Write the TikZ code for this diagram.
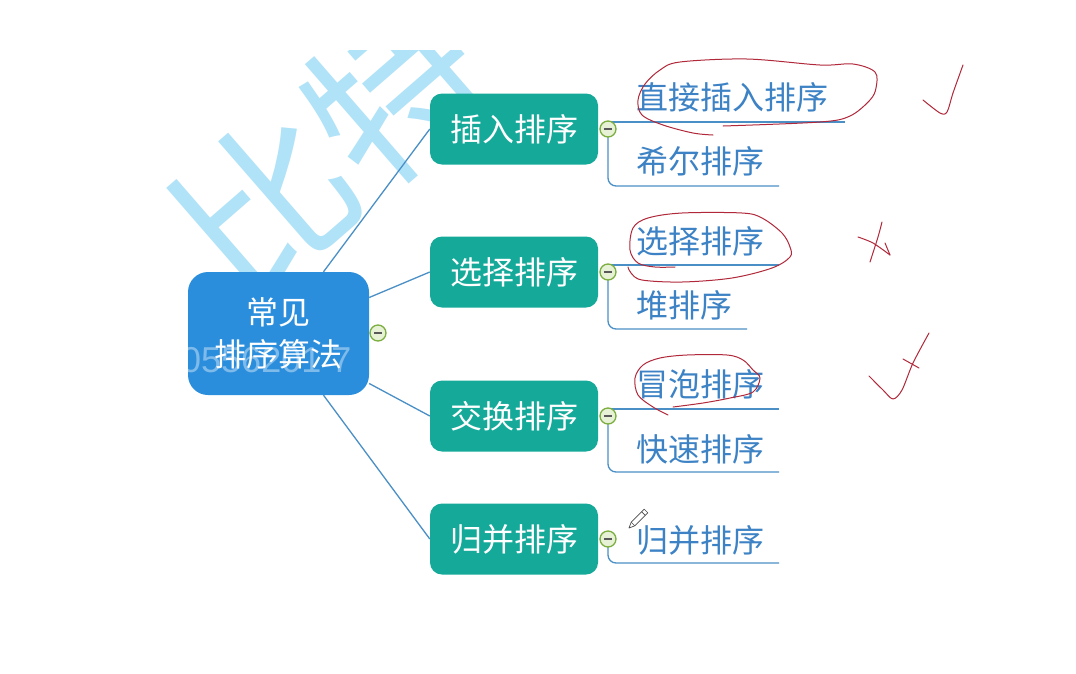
\documentclass[tikz,border=0pt]{standalone}
\usepackage{fontspec}
\newfontfamily\cjk{Noto Sans CJK SC}
\newfontfamily\numfont{Liberation Sans}
\usetikzlibrary{calc}
\definecolor{cblue}{HTML}{2B8EDC}
\definecolor{tealbox}{HTML}{15A99A}
\definecolor{leaftxt}{HTML}{3C82C4}
\definecolor{linkcol}{HTML}{4A8FC6}
\definecolor{wmark}{HTML}{B0E2F8}
\definecolor{penred}{HTML}{B0283A}
\definecolor{mgreen}{HTML}{7BAE3E}
\definecolor{mfill}{HTML}{E6F1D6}
\pgfdeclarelayer{bottom}
\pgfdeclarelayer{links}
\pgfsetlayers{bottom,links,main}
\begin{document}
\begin{tikzpicture}[x=1pt,y=-1pt,
 central/.style={fill=cblue, rounded corners=20pt, minimum width=181pt, minimum height=123pt, text=white, align=center, inner sep=0pt, font=\cjk\fontsize{32}{42}\selectfont},
 branch/.style={fill=tealbox, rounded corners=12pt, minimum width=168pt, minimum height=71pt, text=white, inner sep=0pt, font=\cjk\fontsize{32}{36}\selectfont},
 leaf/.style={text=leaftxt, anchor=west, inner sep=0pt, font=\cjk\fontsize{32}{36}\selectfont},
 link/.style={draw=linkcol, line width=1.3pt},
 fold/.style={circle, draw=mgreen, fill=mfill, line width=1.3pt, minimum size=16pt, inner sep=0pt},
 minus/.style={draw=black!65, line width=1.6pt},
 ink/.style={draw=penred, line width=1pt, line join=round, line cap=round}
]
\begin{pgfonlayer}{bottom}
\useasboundingbox (0,0) rectangle (1076,673);
\fill[white] (0,0) rectangle (1076,673);
% watermark
\begin{scope}
\clip (0,50) rectangle (1076,673);
\node[rotate=41, text=wmark, inner sep=0pt, font=\cjk\fontsize{172}{172}\selectfont] (wm) at (330,148) {比特};
\end{scope}
\end{pgfonlayer}

% boxes
\node[central] (c) at (278.5,333.5) {常见\\排序算法};
\node[branch] (b1) at (514,129) {插入排序};
\node[branch] (b2) at (514,272) {选择排序};
\node[branch] (b3) at (514,416) {交换排序};
\node[branch] (b4) at (514,539) {归并排序};

% connectors centre -> branches
\begin{pgfonlayer}{links}
\draw[link] ([xshift=45pt]c.north) -- (b1.west);
\draw[link] ([yshift=36pt]c.east) -- (b2.west);
\draw[link] ([yshift=-50pt]c.east) -- (b3.west);
\draw[link] ([xshift=45pt]c.south) -- (b4.west);
\end{pgfonlayer}

% numeric watermark
\node[text=white, opacity=0.4, anchor=west, inner sep=0pt, font=\numfont\fontsize{36}{36}\selectfont] (num) at (181,360) {0556201 7};

% fold markers
\coordinate (p0) at (378,333);
\coordinate (p1) at (608,129);
\coordinate (p2) at (608,272);
\coordinate (p3) at (608,416);
\coordinate (p4) at (608,539);

% underline end points
\coordinate (u11) at (845,122);
\coordinate (u12) at (779,186);
\coordinate (u21) at (779,265);
\coordinate (u22) at (747,329);
\coordinate (u31) at (779,409);
\coordinate (u32) at (779,472);
\coordinate (u41) at (779,563);

\draw[link] (p1 |- u11) -- (u11);
\draw[link, rounded corners=8pt] (p1) |- (u12);
\draw[link] (p2 |- u21) -- (u21);
\draw[link, rounded corners=8pt] (p2) |- (u22);
\draw[link] (p3 |- u31) -- (u31);
\draw[link, rounded corners=8pt] (p3) |- (u32);
\draw[link, rounded corners=8pt] (p4) |- (u41);

\foreach \p/\n in {p0/m0,p1/m1,p2/m2,p3/m3,p4/m4}{
  \node[fold] (\n) at (\p) {};
  \draw[minus] ([xshift=-4.2pt]\n.center) -- ([xshift=4.2pt]\n.center);
}

% leaves
\node[leaf] (l11) at (636,97.5) {直接插入排序};
\node[leaf] (l12) at (636,161.5) {希尔排序};
\node[leaf] (l21) at (636,241.5) {选择排序};
\node[leaf] (l22) at (636,305) {堆排序};
\node[leaf] (l31) at (636,384) {冒泡排序};
\node[leaf] (l32) at (636,449) {快速排序};
\node[leaf] (l41) at (636,540) {归并排序};

% pencil cursor
\draw[black!70, fill=white, line width=0.7pt, line join=round]
  (647.8,512.8) -- (634.8,525.8) -- (629,528) -- (631.2,522.2) -- (644.2,509.2) -- cycle;
\draw[black!70, line width=0.7pt] (645.2,515.4) -- (641.6,511.8);
\draw[black!70, line width=0.7pt] (634.8,525.8) -- (631.2,522.2);

% handwritten annotations
\draw[ink] plot[smooth, tension=0.55] coordinates {(713,135) (693,133) (663,125) (642,115) (638,100) (645,84) (660,70) (680,62) (747,59) (820,65) (853,64) (875,72) (876,88) (870,100) (850,116) (820,122) (723,126)};
\draw[ink] plot[smooth, tension=0.5] coordinates {(923,100) (940,113) (947,112) (953,93) (963,65)};

\draw[ink] plot[smooth, tension=0.55] coordinates {(628,267) (631,273) (642,280) (682,282) (732,278) (772,268) (790,257) (790,247) (782,233) (762,218) (742,213) (682,213) (648,218) (633,228) (630,250) (638,263) (655,267) (675,267)};
\draw[ink] plot[smooth, tension=0.5] coordinates {(858,237) (873,243) (890,255)};
\draw[ink] plot[smooth, tension=0.5] coordinates {(882,222) (878,237) (870,262)};
\draw[ink] (885,243) -- (890,255);

\draw[ink] plot[smooth, tension=0.55] coordinates {(668,415) (653,407) (638,395) (635,378) (643,365) (660,358) (687,355) (727,355) (743,360) (753,370) (760,378) (753,392) (730,398) (703,403) (673,407)};
\draw[ink] plot[smooth, tension=0.5] coordinates {(869,376) (883,390) (893,399) (902,390) (913,363) (929,333)};
\draw[ink] (903,359) -- (919,368);
\end{tikzpicture}
\end{document}
